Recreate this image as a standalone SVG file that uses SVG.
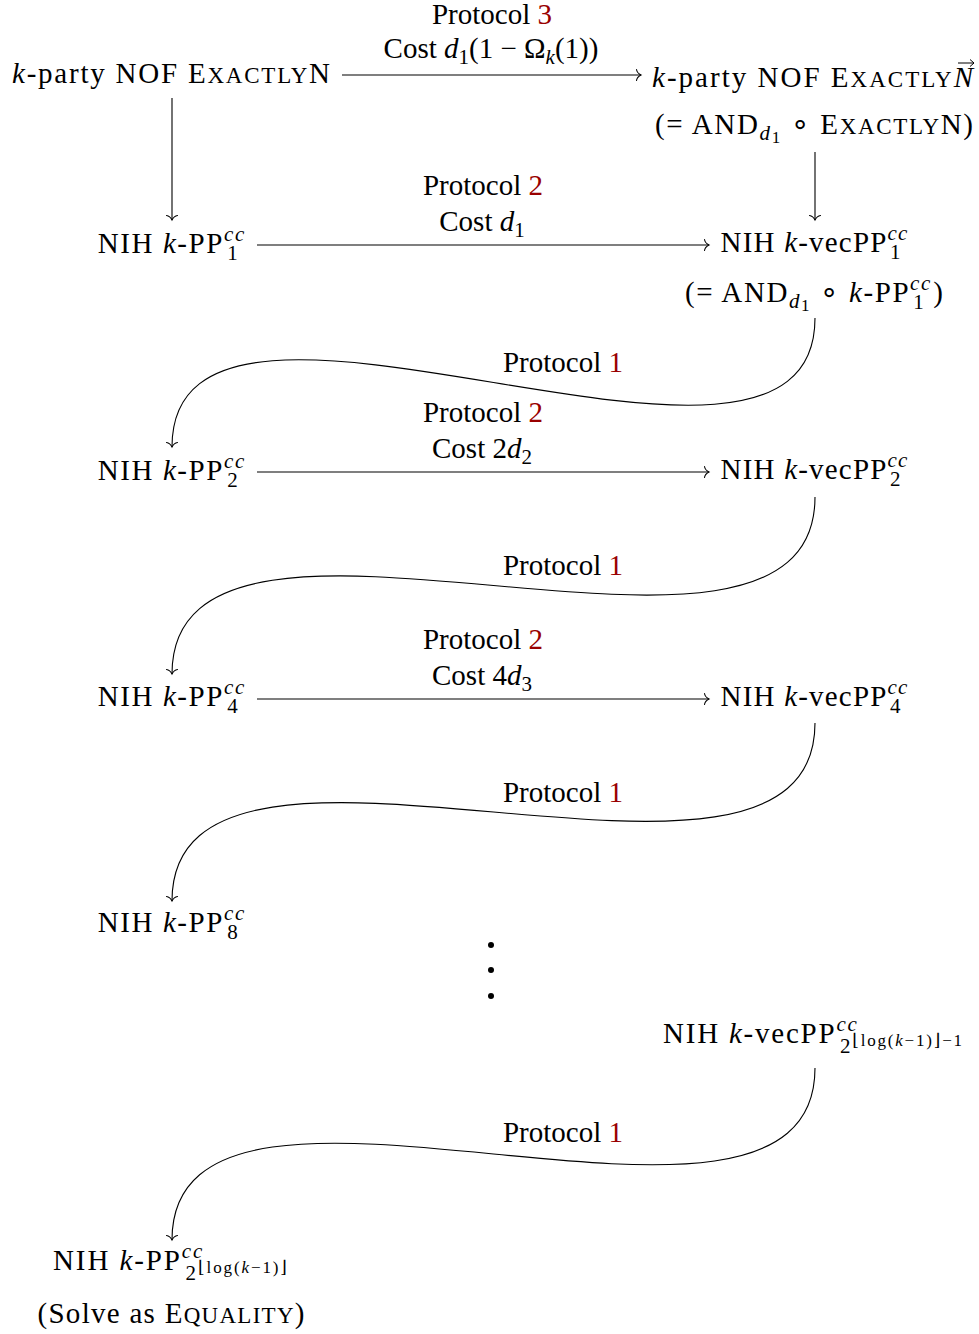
<svg xmlns="http://www.w3.org/2000/svg" width="979" height="1334" viewBox="0 0 979 1334">
<defs>
<style>
text{font-family:"Liberation Serif","Times New Roman","DejaVu Serif",serif;font-size:29px;fill:#000}
.i{font-style:italic}
.sc{font-size:23px}
.s{font-size:21px}
.ss{font-size:17px}
.o{font-family:"DejaVu Sans",sans-serif;font-size:30px}
.r{fill:#990000}
.e{fill:none;stroke:#000;stroke-width:1.1}
</style>
<marker id="to" viewBox="-6 -7 8 14" markerWidth="8" markerHeight="14" refX="0" refY="0" orient="auto" markerUnits="userSpaceOnUse">
<path d="M-4.5,-5.5 C-4,-2 -1,-0.5 0,0 C-1,0.5 -4,2 -4.5,5.5" fill="none" stroke="#000" stroke-width="1.1" stroke-linecap="round"/>
</marker>
</defs>
<rect width="979" height="1334" fill="#fff"/>

<g id="connectors">
<path class="e" d="M342,75 H641" marker-end="url(#to)"/>
<path class="e" d="M172,98 V220" marker-end="url(#to)"/>
<path class="e" d="M815,152 V220" marker-end="url(#to)"/>
<path class="e" d="M257,245 H709" marker-end="url(#to)"/>
<path class="e" d="M815,318 C815,553 172,212 172,447" marker-end="url(#to)"/>
<path class="e" d="M257,472 H709" marker-end="url(#to)"/>
<path class="e" d="M815,497 C815,732 172,439 172,674" marker-end="url(#to)"/>
<path class="e" d="M257,699 H709" marker-end="url(#to)"/>
<path class="e" d="M815,723 C815,958 172,666 172,901" marker-end="url(#to)"/>
<path class="e" d="M815,1068 C815,1303 172,1005 172,1240" marker-end="url(#to)"/>
</g>

<g id="labels" text-anchor="middle">
<text x="492" y="24">Protocol <tspan class="r">3</tspan></text>
<text x="491" y="58">Cost <tspan class="i">d</tspan><tspan class="s" dy="6">1</tspan><tspan dy="-6">(1 − Ω</tspan><tspan class="s i" dy="6">k</tspan><tspan dy="-6">(1))</tspan></text>
<text x="483" y="195">Protocol <tspan class="r">2</tspan></text>
<text x="482" y="231">Cost <tspan class="i">d</tspan><tspan class="s" dy="6">1</tspan></text>
<text x="563" y="372">Protocol <tspan class="r">1</tspan></text>
<text x="483" y="422">Protocol <tspan class="r">2</tspan></text>
<text x="482" y="458">Cost 2<tspan class="i">d</tspan><tspan class="s" dy="6">2</tspan></text>
<text x="563" y="575">Protocol <tspan class="r">1</tspan></text>
<text x="483" y="649">Protocol <tspan class="r">2</tspan></text>
<text x="482" y="685">Cost 4<tspan class="i">d</tspan><tspan class="s" dy="6">3</tspan></text>
<text x="563" y="802">Protocol <tspan class="r">1</tspan></text>
<text x="563" y="1142">Protocol <tspan class="r">1</tspan></text>
</g>

<g id="n-exactly" text-anchor="middle">
<text x="171" y="83" textLength="318"><tspan class="i">k</tspan>-party NOF E<tspan class="sc">XACTLY</tspan>N</text>
</g>

<g id="n-exactlyvec">
<text x="973" y="87" text-anchor="end" textLength="321"><tspan class="i">k</tspan>-party NOF E<tspan class="sc">XACTLY</tspan><tspan class="i">N</tspan></text>
<path d="M958,63 H974 M970,59.5 L974,63 L970,66.5" fill="none" stroke="#000" stroke-width="1"/>
<text x="814" y="134" text-anchor="middle" textLength="318">(= AND<tspan class="s i" dy="6">d</tspan><tspan class="ss" dy="3">1</tspan><tspan dy="-9"> </tspan><tspan class="o">∘</tspan><tspan> E</tspan><tspan class="sc">XACTLY</tspan>N)</text>
</g>

<g id="n-pp1" text-anchor="middle">
<text x="171" y="253" textLength="148">NIH <tspan class="i">k</tspan>-PP<tspan class="s i" dy="-12">cc</tspan><tspan class="s" dx="-18.6" dy="19">1</tspan></text>
</g>

<g id="n-vecpp1" text-anchor="middle">
<text x="814" y="252" textLength="188">NIH <tspan class="i">k</tspan>-vecPP<tspan class="s i" dy="-12">cc</tspan><tspan class="s" dx="-18.6" dy="19">1</tspan></text>
<text x="814" y="302" textLength="258">(= AND<tspan class="s i" dy="6">d</tspan><tspan class="ss" dy="3">1</tspan><tspan dy="-9"> </tspan><tspan class="o">∘</tspan><tspan> </tspan><tspan class="i">k</tspan>-PP<tspan class="s i" dy="-12">cc</tspan><tspan class="s" dx="-18.6" dy="19">1</tspan><tspan dx="8" dy="-7">)</tspan></text>
</g>

<g id="n-pp2" text-anchor="middle">
<text x="171" y="480" textLength="148">NIH <tspan class="i">k</tspan>-PP<tspan class="s i" dy="-12">cc</tspan><tspan class="s" dx="-18.6" dy="19">2</tspan></text>
</g>

<g id="n-vecpp2" text-anchor="middle">
<text x="814" y="479" textLength="188">NIH <tspan class="i">k</tspan>-vecPP<tspan class="s i" dy="-12">cc</tspan><tspan class="s" dx="-18.6" dy="19">2</tspan></text>
</g>

<g id="n-pp4" text-anchor="middle">
<text x="171" y="706" textLength="148">NIH <tspan class="i">k</tspan>-PP<tspan class="s i" dy="-12">cc</tspan><tspan class="s" dx="-18.6" dy="19">4</tspan></text>
</g>

<g id="n-vecpp4" text-anchor="middle">
<text x="814" y="706" textLength="188">NIH <tspan class="i">k</tspan>-vecPP<tspan class="s i" dy="-12">cc</tspan><tspan class="s" dx="-18.6" dy="19">4</tspan></text>
</g>

<g id="n-pp8" text-anchor="middle">
<text x="171" y="932" textLength="148">NIH <tspan class="i">k</tspan>-PP<tspan class="s i" dy="-12">cc</tspan><tspan class="s" dx="-18.6" dy="19">8</tspan></text>
</g>

<g id="dots">
<circle cx="491" cy="945" r="3"/>
<circle cx="491" cy="970" r="3"/>
<circle cx="491" cy="996" r="3"/>
</g>

<g id="n-vecpplast">
<text x="663" y="1043" textLength="299">NIH <tspan class="i">k</tspan>-vecPP<tspan class="s i" dy="-12">cc</tspan><tspan class="s" dx="-18.6" dy="22">2</tspan><tspan class="ss" dy="-7">⌊log(<tspan class="i">k</tspan>−1)⌋−1</tspan></text>
</g>

<g id="n-pplast">
<text x="53" y="1270" textLength="234">NIH <tspan class="i">k</tspan>-PP<tspan class="s i" dy="-12">cc</tspan><tspan class="s" dx="-18.6" dy="22">2</tspan><tspan class="ss" dy="-7">⌊log(<tspan class="i">k</tspan>−1)⌋</tspan></text>
<text x="171" y="1323" text-anchor="middle" textLength="267">(Solve as E<tspan class="sc">QUALITY</tspan>)</text>
</g>
</svg>
